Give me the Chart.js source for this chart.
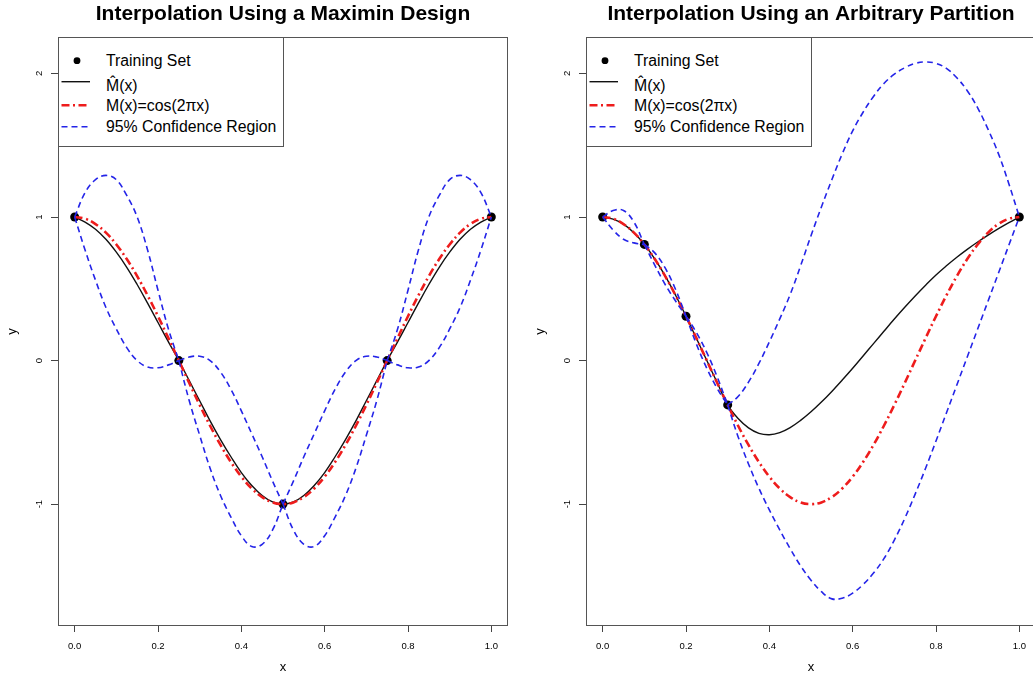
<!DOCTYPE html>
<html>
<head>
<meta charset="utf-8">
<title>Interpolation</title>
<script src="https://cdn.jsdelivr.net/npm/chart.js@4.4.1/dist/chart.umd.min.js"></script>
<style>
  html, body { margin: 0; padding: 0; background: #fff; overflow: hidden; width: 1033px; height: 677px; }
  #wrap { position: relative; width: 1033px; height: 677px; overflow: hidden; }
  #wrap canvas { position: absolute; top: 0; }
  #c1 { left: 0; }
  #c2 { left: 528px; }
  svg.legend { position: absolute; }
</style>
</head>
<body>
<div id="wrap">
  <canvas id="c1" width="528" height="677"></canvas>
  <canvas id="c2" width="528" height="677"></canvas>
</div>
<script>
// Evaluation grid on [0, 1]
const xGrid = [0, 0.025, 0.05, 0.075, 0.1, 0.125, 0.15, 0.175, 0.2, 0.225, 0.25, 0.275, 0.3, 0.325, 0.35, 0.375, 0.4, 0.425, 0.45, 0.475, 0.5,
               0.525, 0.55, 0.575, 0.6, 0.625, 0.65, 0.675, 0.7, 0.725, 0.75, 0.775, 0.8, 0.825, 0.85, 0.875, 0.9, 0.925, 0.95, 0.975, 1];

// Axis ticks
const xTicks = [0, 0.2, 0.4, 0.6, 0.8, 1];
const xTickLabels = ['0.0', '0.2', '0.4', '0.6', '0.8', '1.0'];
const yTicks = [-1, 0, 1, 2];
const yTickLabels = ['-1', '0', '1', '2'];

// True response M(x) = cos(2*pi*x) on the grid
const trueCurve = [1, 0.988, 0.951, 0.891, 0.809, 0.707, 0.588, 0.454, 0.309, 0.156, 0, -0.156, -0.309, -0.454, -0.588, -0.707, -0.809, -0.891, -0.951, -0.988, -1,
                   -0.988, -0.951, -0.891, -0.809, -0.707, -0.588, -0.454, -0.309, -0.156, 0, 0.156, 0.309, 0.454, 0.588, 0.707, 0.809, 0.891, 0.951, 0.988, 1];

// Maximin design
const maximinX = [0, 0.25, 0.5, 0.75, 1];
const maximinY = [1, 0, -1, 0, 1];
const maximinFit = [1, 0.965, 0.915, 0.845, 0.755, 0.65, 0.53, 0.40, 0.265, 0.13, 0, -0.14, -0.28, -0.42, -0.55, -0.67, -0.78, -0.87, -0.94, -0.985, -1,
                    -0.985, -0.94, -0.87, -0.78, -0.67, -0.55, -0.42, -0.28, -0.14, 0, 0.13, 0.265, 0.40, 0.53, 0.65, 0.755, 0.845, 0.915, 0.965, 1];
const maximinUpper = [1, 1.17, 1.26, 1.29, 1.26, 1.15, 1.0, 0.77, 0.49, 0.22, 0, 0.025, 0.03, 0, -0.08, -0.2, -0.35, -0.51, -0.67, -0.84, -1,
                      -0.84, -0.67, -0.51, -0.35, -0.2, -0.08, 0, 0.03, 0.025, 0, 0.22, 0.49, 0.77, 1.0, 1.15, 1.26, 1.29, 1.26, 1.17, 1];
const maximinLower = [1, 0.77, 0.56, 0.37, 0.22, 0.09, 0, -0.045, -0.05, -0.03, 0, -0.28, -0.52, -0.75, -0.94, -1.09, -1.22, -1.295, -1.28, -1.18, -1,
                      -1.18, -1.28, -1.295, -1.22, -1.09, -0.94, -0.75, -0.52, -0.28, 0, -0.03, -0.05, -0.045, 0, 0.09, 0.22, 0.37, 0.56, 0.77, 1];

// Arbitrary partition
const partitionX = [0, 0.1, 0.2, 0.3, 1];
const partitionY = [1, 0.809, 0.309, -0.309, 1];
const partitionFit = [1, 0.985, 0.95, 0.89, 0.809, 0.708, 0.59, 0.455, 0.309, 0.155, 0, -0.155, -0.309, -0.404, -0.469, -0.507, -0.517, -0.502, -0.467, -0.417, -0.357,
                      -0.289, -0.215, -0.136, -0.054, 0.032, 0.118, 0.204, 0.289, 0.371, 0.45, 0.525, 0.596, 0.66, 0.72, 0.775, 0.826, 0.874, 0.919, 0.961, 1];
const partitionUpper = [1, 1.045, 1.045, 0.965, 0.809, 0.75, 0.645, 0.495, 0.309, 0.195, 0.055, -0.115, -0.309, -0.25, -0.15, -0.02, 0.13, 0.29, 0.46, 0.66, 0.87,
                        1.07, 1.26, 1.44, 1.6, 1.73, 1.84, 1.93, 1.995, 2.04, 2.07, 2.08, 2.07, 2.035, 1.97, 1.88, 1.76, 1.61, 1.44, 1.23, 1];
const partitionLower = [1, 0.91, 0.845, 0.82, 0.809, 0.665, 0.53, 0.415, 0.309, 0.115, -0.055, -0.195, -0.309, -0.53, -0.72, -0.89, -1.04, -1.18, -1.31, -1.43, -1.53,
                        -1.61, -1.66, -1.655, -1.62, -1.56, -1.48, -1.38, -1.25, -1.1, -0.93, -0.75, -0.56, -0.365, -0.17, 0.025, 0.22, 0.415, 0.61, 0.805, 1];

const FONT = '"Liberation Sans", Arial, Helvetica, sans-serif';
const RED = '#ee1c1c';
const BLUE = '#2424e8';
const FRAME = '#555';

Chart.defaults.font.family = FONT;

function curve(ys) {
  return xGrid.map((x, i) => ({ x, y: ys[i] }));
}

// Band curves have a corner at every design point, so the path restarts there
function band(ys, knots) {
  const out = [];
  xGrid.forEach((x, i) => {
    out.push({ x, y: ys[i] });
    if (i > 0 && i < xGrid.length - 1 && knots.some(k => Math.abs(k - x) < 1e-9)) {
      out.push({ x, y: null });
      out.push({ x, y: ys[i] });
    }
  });
  return out;
}

// Plot frame plus rotated y tick labels
const framePlugin = {
  id: 'frame',
  beforeDatasetsDraw(chart) {
    const { ctx, chartArea: a } = chart;
    ctx.save();
    ctx.strokeStyle = FRAME;
    ctx.lineWidth = 1;
    ctx.strokeRect(Math.round(a.left) + 0.5, Math.round(a.top) + 0.5,
                   Math.round(a.right - a.left) - 1, Math.round(a.bottom - a.top) - 1);
    ctx.restore();
  },
  afterDraw(chart) {
    const { ctx } = chart;
    const y = chart.scales.y;
    ctx.save();
    ctx.font = '9.5px ' + FONT;
    ctx.fillStyle = '#000';
    ctx.textAlign = 'center';
    ctx.textBaseline = 'middle';
    yTicks.forEach((v, i) => {
      const py = y.getPixelForValue(v);
      ctx.save();
      ctx.translate(39, py);
      ctx.rotate(-Math.PI / 2);
      ctx.fillText(yTickLabels[i], 0, 0);
      ctx.restore();
    });
    ctx.restore();
  }
};

function escapeXml(s) {
  return s.replace(/&/g, '&amp;').replace(/</g, '&lt;').replace(/>/g, '&gt;');
}

// Boxed legend in the top-left corner of the plot region
function addLegend(chart, canvasLeft) {
  const a = chart.chartArea;
  const items = chart.data.datasets.filter(d => d.inLegend !== false);
  const symbolY = [23.7, 44.7, 68.3, 89.7];
  const textY = [28.5, 53.5, 73.7, 95.3];
  let s = '<svg class="legend" xmlns="http://www.w3.org/2000/svg" width="226" height="110" ' +
          'style="left:' + (canvasLeft + a.left) + 'px;top:' + a.top + 'px">';
  s += '<rect x="0.5" y="0.5" width="225" height="109" fill="#fff" stroke="' + FRAME + '" stroke-width="1"/>';
  items.forEach((d, i) => {
    if (d.showLine === false) {
      s += '<circle cx="19" cy="' + symbolY[i] + '" r="3.4" fill="' + d.pointBackgroundColor + '"/>';
    } else {
      s += '<line x1="3.5" x2="32" y1="' + symbolY[i] + '" y2="' + symbolY[i] + '" stroke="' + d.borderColor +
           '" stroke-width="' + d.borderWidth + '"' +
           (d.borderDash ? ' stroke-dasharray="' + d.borderDash.join(' ') + '"' : '') + '/>';
    }
    s += '<text x="48" y="' + textY[i] + '" font-family=\'' + FONT.replace(/"/g, '') + '\' font-size="15.8" fill="#000">' +
         escapeXml(d.label) + '</text>';
  });
  s += '</svg>';
  document.getElementById('wrap').insertAdjacentHTML('beforeend', s);
}

function makePanel(canvasId, canvasLeft, titleText, knotsX, knotsY, fit, upper, lower) {
  const lineCommon = { pointRadius: 0, fill: false, tension: 0.4, spanGaps: false };
  const datasets = [
    { label: 'Training Set', data: knotsX.map((x, i) => ({ x, y: knotsY[i] })), showLine: false,
      pointRadius: 4.5, pointBackgroundColor: '#000', pointBorderColor: '#000', pointBorderWidth: 0, order: 10 },
    Object.assign({ label: 'M\u0302(x)', data: curve(fit), borderColor: '#111', borderWidth: 1.4, order: 8 }, lineCommon),
    Object.assign({ label: 'M(x)=cos(2\u03c0x)', data: curve(trueCurve), borderColor: RED, borderWidth: 2.6,
                    borderDash: [8, 3.5, 2, 3.5], order: 6 }, lineCommon),
    Object.assign({ label: '95% Confidence Region', data: band(upper, knotsX), borderColor: BLUE, borderWidth: 1.6,
                    borderDash: [6, 4], order: 4 }, lineCommon),
    Object.assign({ label: '95% Confidence Region', data: band(lower, knotsX), borderColor: BLUE, borderWidth: 1.6,
                    borderDash: [6, 4], order: 4, inLegend: false }, lineCommon)
  ];

  const gridOpts = { drawOnChartArea: false, drawTicks: true, color: '#444', lineWidth: 1 };

  const chart = new Chart(document.getElementById(canvasId), {
    type: 'line',
    data: { datasets },
    plugins: [framePlugin],
    options: {
      responsive: false,
      maintainAspectRatio: false,
      devicePixelRatio: 1,
      animation: false,
      events: [],
      layout: { padding: { left: 0, right: 20, top: 0, bottom: 0 } },
      plugins: {
        legend: { display: false },
        tooltip: { enabled: false },
        title: {
          display: true, text: titleText, color: '#000', fullSize: false,
          font: { family: FONT, size: 21, weight: 'bold', lineHeight: 1.2 },
          padding: { top: 1.6, bottom: 10.2 }
        }
      },
      scales: {
        x: {
          type: 'linear', min: -0.04, max: 1.04,
          afterBuildTicks: s => { s.ticks = xTicks.map(v => ({ value: v })); },
          afterFit: s => { s.height = 51; },
          ticks: { callback: (v, i) => xTickLabels[i], font: { family: FONT, size: 9.5 }, color: '#000',
                   padding: 8.7, maxRotation: 0, minRotation: 0, autoSkip: false },
          grid: Object.assign({ tickLength: 6 }, gridOpts),
          border: { display: false },
          title: { display: true, text: 'x', color: '#000', font: { family: FONT, size: 13, lineHeight: 1.2 },
                   padding: { top: 0, bottom: 2 } }
        },
        y: {
          type: 'linear', min: -1.849, max: 2.254,
          afterBuildTicks: s => { s.ticks = yTicks.map(v => ({ value: v })); },
          afterFit: s => { s.width = 58; },
          ticks: { display: false },
          grid: Object.assign({ tickLength: 7 }, gridOpts),
          border: { display: false },
          title: { display: true, text: 'y', color: '#000', font: { family: FONT, size: 13, lineHeight: 1.2 },
                   padding: { top: 5, bottom: 0 } }
        }
      }
    }
  });
  addLegend(chart, canvasLeft);
  return chart;
}

makePanel('c1', 0, 'Interpolation Using a Maximin Design', maximinX, maximinY, maximinFit, maximinUpper, maximinLower);
makePanel('c2', 528, 'Interpolation Using an Arbitrary Partition', partitionX, partitionY, partitionFit, partitionUpper, partitionLower);
</script>
</body>
</html>
